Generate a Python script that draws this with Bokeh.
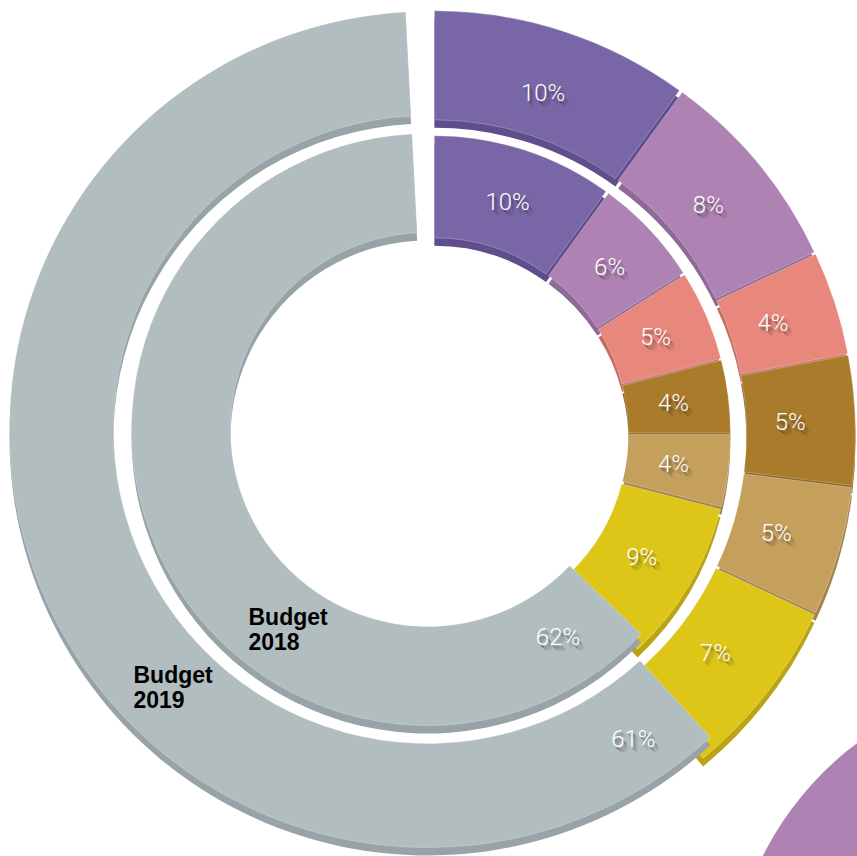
import math
from bokeh.plotting import figure
from bokeh.models import Range1d, ColumnDataSource
from bokeh.core.properties import value
from bokeh.embed import file_html
from bokeh.resources import INLINE

# ---------------- data ----------------
ring_names = ["Budget 2019", "Budget 2018"]
shares_2019 = [10, 8, 4, 5, 5, 7, 61]
shares_2018 = [10, 6, 5, 4, 4, 9, 62]
face_colors = ["#7966A7", "#AF82B4", "#E8877B", "#A97B2B", "#C5A05D", "#DEC619", "#B2BDC0"]
side_colors = ["#5E4E8B", "#8E6A97", "#C56F66", "#876120", "#A5844B", "#BBA414", "#98A3A8"]

# ---------------- layout (pixels, y measured from top) ----------------
W, H = 857, 856


def Y(py):
    return H - py


GRAY_C = (427.0, Y(429))      # centre of the large grey slices
COL_C = (432.0, Y(433))       # centre of the coloured slices
EXPLODE = 6.0
DEPTH = 8.0
GRAY_START = 93.0             # degrees
GEO = {
    "Budget 2019": dict(c_in=308, c_out=417, g_in=314, g_out=418, lab_r=352, g_lab_r=372, g_lab_off=9),
    "Budget 2018": dict(c_in=190, c_out=292, g_in=197, g_out=296, lab_r=237, g_lab_r=245, g_lab_off=14),
}
LABEL_FONT = value("'Roboto Light', Roboto, sans-serif")

p = figure(width=W, height=H, x_range=Range1d(0, W), y_range=Range1d(0, H),
           output_backend="svg", toolbar_location=None, min_border=0,
           x_axis_location=None, y_axis_location=None, outline_line_color=None,
           background_fill_color="white", border_fill_color="white")
p.xgrid.visible = False
p.ygrid.visible = False

# decorative purple disc at the bottom right
p.circle(x=[1050], y=[Y(1000)], radius=322, fill_color="#AE82B3", line_color=None)

label_rows = dict(x=[], y=[], t=[])


def draw_ring(name, shares):
    g = GEO[name]
    n = len(shares)
    xs, ys, sa, ea, fc, sc = [], [], [], [], [], []
    ang = 90.0
    for i in range(n - 1):
        span = shares[i] * 3.6
        a1, a0 = ang, ang - span
        mid = math.radians((a0 + a1) / 2)
        cx = COL_C[0] + EXPLODE * math.cos(mid)
        cy = COL_C[1] + EXPLODE * math.sin(mid)
        xs.append(cx); ys.append(cy)
        sa.append(math.radians(a0)); ea.append(math.radians(a1))
        fc.append(face_colors[i]); sc.append(side_colors[i])
        label_rows["x"].append(cx + g["lab_r"] * math.cos(mid))
        label_rows["y"].append(cy + g["lab_r"] * math.sin(mid))
        label_rows["t"].append(f"{shares[i]}%")
        ang = a0
    for i in range(len(xs)):
        p.annular_wedge(x=[xs[i]], y=[ys[i] - DEPTH], inner_radius=g["c_in"], outer_radius=g["c_out"],
                        start_angle=[sa[i]], end_angle=[ea[i]], fill_color=sc[i], line_color=None)
        p.annular_wedge(x=[xs[i]], y=[ys[i]], inner_radius=g["c_in"], outer_radius=g["c_out"],
                        start_angle=[sa[i]], end_angle=[ea[i]], fill_color=fc[i],
                        line_color="white", line_alpha=0.35, line_width=0.8)
    gs = GRAY_START
    ge = GRAY_START + shares[-1] * 3.6
    gx, gy = GRAY_C
    p.annular_wedge(x=[gx], y=[gy - DEPTH], inner_radius=g["g_in"], outer_radius=g["g_out"],
                    start_angle=[math.radians(gs)], end_angle=[math.radians(ge)],
                    fill_color=side_colors[-1], line_color=None)
    p.annular_wedge(x=[gx], y=[gy], inner_radius=g["g_in"], outer_radius=g["g_out"],
                    start_angle=[math.radians(gs)], end_angle=[math.radians(ge)],
                    fill_color=face_colors[-1], line_color="white", line_alpha=0.3, line_width=0.8)
    la = math.radians(ge - g["g_lab_off"])
    label_rows["x"].append(gx + g["g_lab_r"] * math.cos(la))
    label_rows["y"].append(gy + g["g_lab_r"] * math.sin(la))
    label_rows["t"].append(f"{shares[-1]}%")


draw_ring("Budget 2019", shares_2019)
draw_ring("Budget 2018", shares_2018)

src = ColumnDataSource(label_rows)
for dx, dy, al in [(5, -6, 0.07), (4, -5, 0.12), (3, -4, 0.16), (2, -3, 0.2), (1, -2, 0.12)]:
    p.text(x="x", y="y", text="t", source=src, x_offset=dx, y_offset=-dy,
           text_align="center", text_baseline="middle", text_font=LABEL_FONT,
           text_font_size="24px", text_color="#222222", text_alpha=al)
p.text(x="x", y="y", text="t", source=src, text_align="center", text_baseline="middle",
       text_font=LABEL_FONT, text_font_size="24px", text_color="white")

# ring titles
title_pos = {"Budget 2019": (133, 661), "Budget 2018": (248, 603)}
for name in ring_names:
    word, year = name.split(" ")
    tx, ty = title_pos[name]
    p.text(x=[tx, tx], y=[Y(ty), Y(ty + 29)], text=[word, year], text_align="left",
           text_baseline="top", text_font=value("Liberation Sans"), text_font_style="bold",
           text_font_size="23px", text_color="#000000")

open("out.html", "w").write(file_html(p, INLINE))
